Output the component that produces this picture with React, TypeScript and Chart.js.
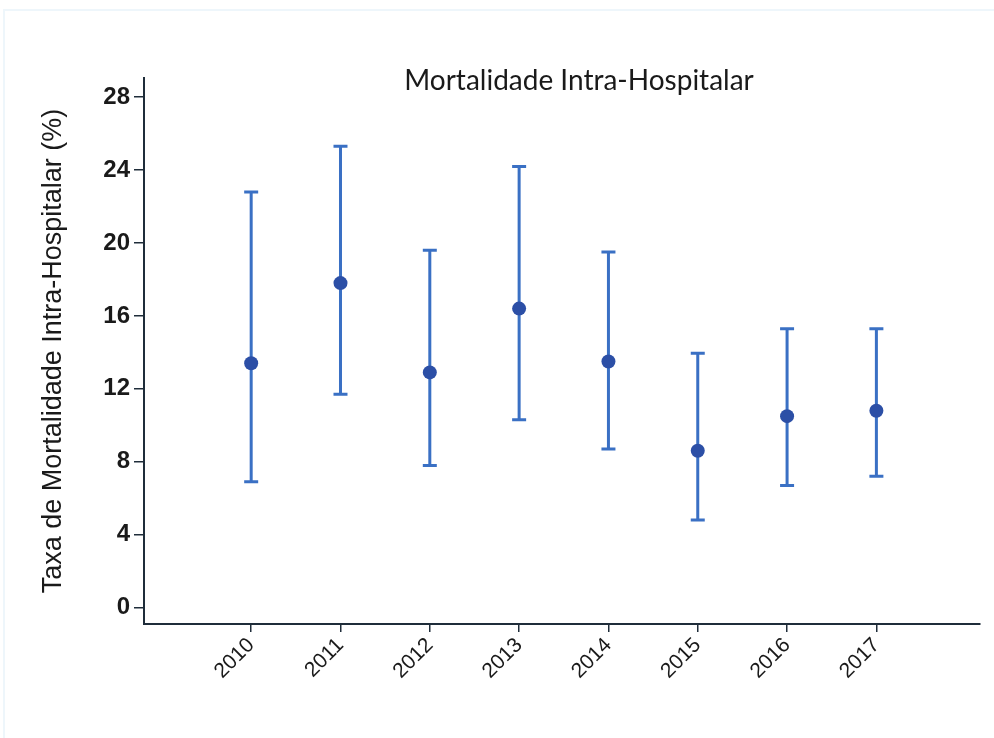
import React, { useEffect, useRef } from "react";
import { Chart, registerables } from "chart.js";

Chart.register(...registerables);

const years = ["2010", "2011", "2012", "2013", "2014", "2015", "2016", "2017"];
const rate = [13.4, 17.8, 12.9, 16.4, 13.5, 8.6, 10.5, 10.8];
const lower = [6.9, 11.7, 7.8, 10.3, 8.7, 4.8, 6.7, 7.2];
const upper = [22.8, 25.3, 19.6, 24.2, 19.5, 13.95, 15.3, 15.3];
const yTicks = [0, 4, 8, 12, 16, 20, 24, 28];
const titleText = "Mortalidade Intra-Hospitalar";
const yTitle = "Taxa de Mortalidade Intra-Hospitalar (%)";

const barColor = "#3a70c4";
const pointColor = "#2c4fa6";
const axisColor = "#1f2d3a";
const narrow = "'Liberation Sans Narrow', 'Arial Narrow', 'Liberation Sans', Arial, sans-serif";

const errorBarPlugin = {
  id: "errorBars",
  beforeDatasetsDraw(chart: any) {
    const { ctx, scales } = chart;
    const xs = scales.x;
    const ys = scales.y;
    ctx.save();
    ctx.strokeStyle = barColor;
    ctx.lineWidth = 3;
    ctx.lineCap = "butt";
    for (let i = 0; i < years.length; i++) {
      const x = xs.getPixelForValue(i);
      const yl = ys.getPixelForValue(lower[i]);
      const yu = ys.getPixelForValue(upper[i]);
      ctx.beginPath();
      ctx.moveTo(x, yl);
      ctx.lineTo(x, yu);
      ctx.moveTo(x - 7, yl);
      ctx.lineTo(x + 7, yl);
      ctx.moveTo(x - 7, yu);
      ctx.lineTo(x + 7, yu);
      ctx.stroke();
    }
    ctx.restore();
  },
};

const titlePlugin = {
  id: "customTitle",
  afterDraw(chart: any) {
    const { ctx, chartArea } = chart;
    ctx.save();
    ctx.font = "28px Lato, 'Open Sans', sans-serif";
    ctx.fillStyle = "#1a1a1a";
    ctx.textAlign = "center";
    ctx.textBaseline = "alphabetic";
    const cx = (chartArea.left + chartArea.right) / 2 + 17;
    ctx.fillText(titleText, cx, chartArea.top + 12);
    ctx.restore();
  },
};

export default function App() {
  const ref = useRef<HTMLCanvasElement | null>(null);
  useEffect(() => {
    if (!ref.current) return;
    const chart = new Chart(ref.current, {
      type: "scatter",
      data: {
        datasets: [
          {
            data: rate.map((v, i) => ({ x: i, y: v })),
            backgroundColor: pointColor,
            borderColor: pointColor,
            pointRadius: 7,
            pointBorderWidth: 0,
          },
        ],
      },
      options: {
        animation: false,
        responsive: false,
        layout: { padding: { left: 37, top: 78, right: 14, bottom: 30 } },
        plugins: { legend: { display: false }, tooltip: { enabled: false }, title: { display: false } },
        scales: {
          x: {
            type: "linear",
            min: -1.2,
            max: 8.16,
            afterBuildTicks(scale: any) {
              scale.ticks = years.map((_, i) => ({ value: i }));
            },
            afterFit(scale: any) {
              scale.height = 84;
            },
            grid: { drawOnChartArea: false, drawTicks: true, tickLength: 8, color: axisColor, lineWidth: 1.5 },
            border: { display: true, color: axisColor, width: 2 },
            ticks: {
              autoSkip: false,
              minRotation: 45,
              maxRotation: 45,
              padding: 1,
              color: "#1a1a1a",
              font: { family: narrow, size: 21 },
              callback: (v: any) => years[v] ?? "",
            },
          },
          y: {
            type: "linear",
            min: -0.9,
            max: 29.05,
            afterBuildTicks(scale: any) {
              scale.ticks = yTicks.map((v) => ({ value: v }));
            },
            afterFit(scale: any) {
              scale.width = 107;
            },
            grid: { drawOnChartArea: false, drawTicks: true, tickLength: 10, color: axisColor, lineWidth: 1.5 },
            border: { display: true, color: axisColor, width: 2 },
            ticks: {
              padding: 4,
              color: "#1a1a1a",
              font: { family: narrow, size: 24, weight: "bold" },
            },
            title: {
              display: true,
              text: yTitle,
              padding: 0,
              color: "#1a1a1a",
              font: { family: "'Liberation Sans', Arial, sans-serif", size: 27 },
            },
          },
        },
      },
      plugins: [errorBarPlugin, titlePlugin],
    } as any);
    return () => chart.destroy();
  }, []);

  return (
    <div style={{ position: "absolute", left: 0, top: 0, width: 994, height: 738, background: "#fff" }}>
      <div
        style={{
          position: "absolute",
          left: 3,
          top: 9,
          width: 991,
          height: 729,
          borderTop: "2px solid #eef6fb",
          borderLeft: "2px solid #eef6fb",
          boxSizing: "border-box",
        }}
      />
      <canvas ref={ref} width={994} height={738} style={{ position: "absolute", left: 0, top: 0 }} />
    </div>
  );
}
